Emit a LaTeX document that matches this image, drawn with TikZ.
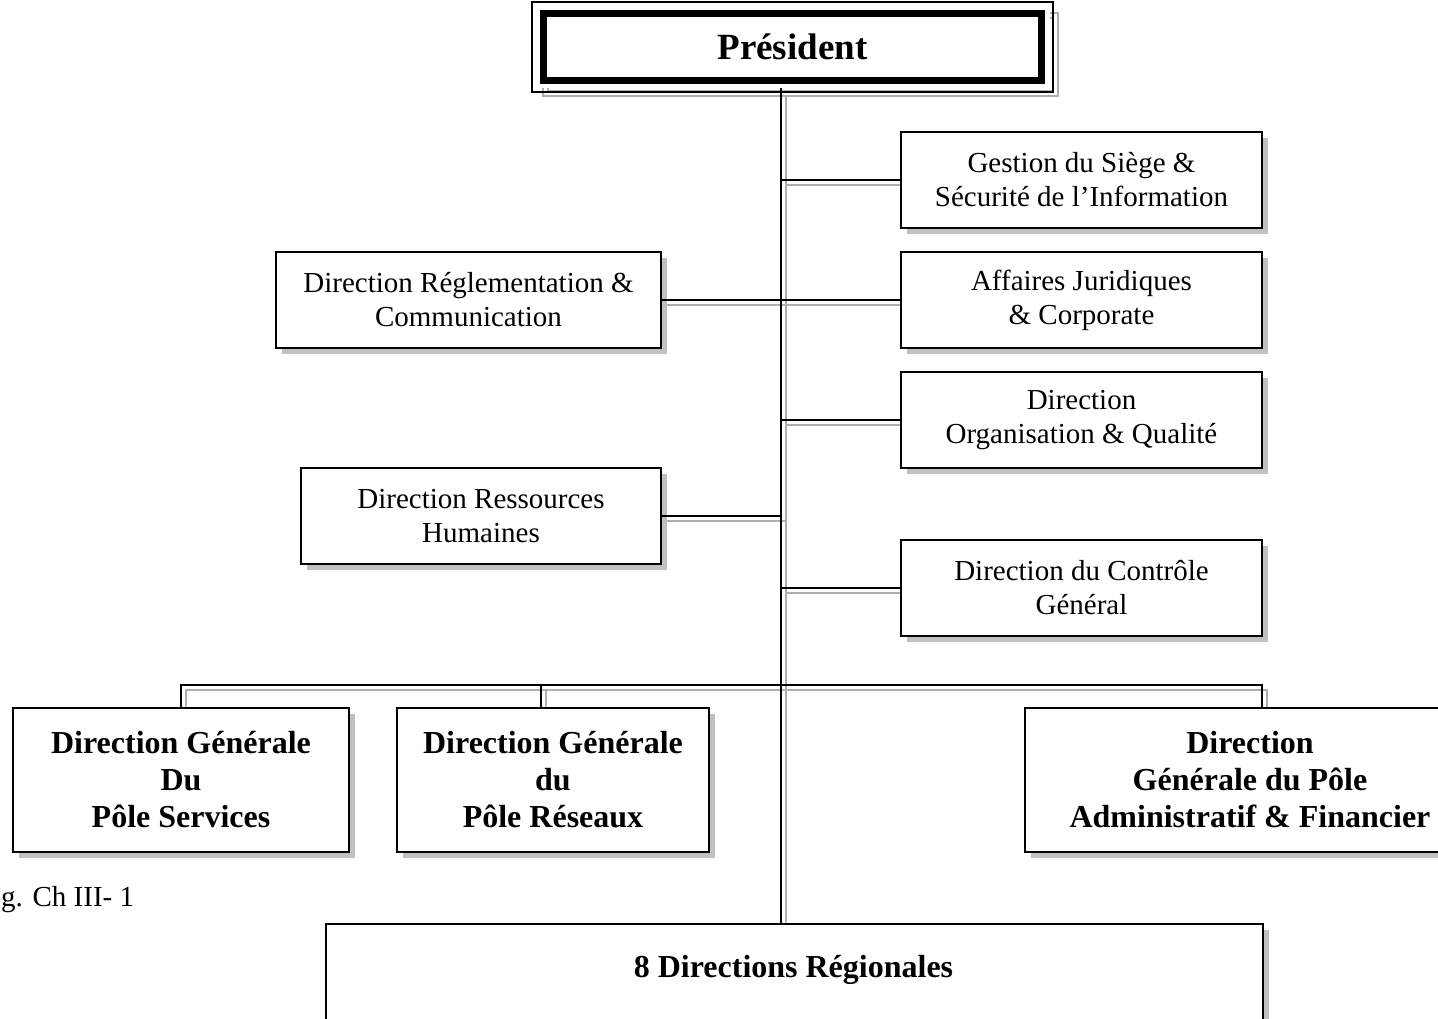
\documentclass[tikz,border=0pt]{standalone}
\usepackage{fontspec}
\setmainfont{Liberation Serif}
\usetikzlibrary{shadows}
\definecolor{shade}{RGB}{192,192,192}
\definecolor{wire}{RGB}{175,175,175}

\begin{document}
\begin{tikzpicture}[x=1pt,y=-1pt,
  unit/.style={draw=black, line width=2pt, fill=white, inner sep=0pt, align=center,
    font=\fontsize{29}{34}\selectfont,
    drop shadow={shadow xshift=6pt, shadow yshift=-6pt, fill=shade, draw=none, opacity=1}},
  pole/.style={unit, font=\fontsize{32}{37}\selectfont\bfseries},
  link/.style={line width=2pt, black},
  linkshade/.style={line width=1.6pt, wire}
]
\useasboundingbox (0,0) rectangle (1438,1018);
\clip (0,0) rectangle (1438,1018);

% ---- president frame: grey offset outline behind, thin outer line, thick border
\draw[wire, line width=1.2pt] (543,13) rectangle (1058,96);
\draw[wire, line width=1.2pt] (548,18) rectangle (1053,91);
\draw[wire, line width=1.2pt] (555,25) rectangle (1046,84);
\fill[white] (535,5) rectangle (1050,88);
\node[draw=black, line width=7pt, fill=white, inner sep=0pt,
      minimum width=498pt, minimum height=67pt,
      font=\fontsize{37}{44}\selectfont\bfseries] (pres) at (792.5,47) {Président};
\draw[line width=1.5pt] ([shift={(-8,-8)}]pres.north west) rectangle ([shift={(8,8)}]pres.south east);

% ---- connector anchor points
\coordinate (t0) at (781,88);
\coordinate (bus) at (781,685);
\coordinate (res-in) at (541,708);
\coordinate (adm-in) at (1262,708);

% shade lines beside the connectors
\draw[linkshade] (786,96) -- (786,923);
\foreach \yy in {180,300,420,588} \draw[linkshade] (786,\yy+5) -- (901,\yy+5);
\foreach \yy in {300,516} \draw[linkshade] (661,\yy+5) -- (786,\yy+5);
\draw[linkshade] (186,708) -- (186,690) -- (1267,690) -- (1267,708);
\draw[linkshade] (546,690) -- (546,708);

% right-hand staff units
\node[unit, minimum width=361pt, minimum height=96pt] (gest) at (1081.5,180) {Gestion du Siège \&\\Sécurité de l’Information};
\node[unit, minimum width=361pt, minimum height=96pt] (aff)  at (1081.5,300) {Affaires Juridiques\\\& Corporate};
\node[unit, minimum width=361pt, minimum height=96pt] (org)  at (1081.5,420) {Direction\\Organisation \& Qualité};
\node[unit, minimum width=361pt, minimum height=96pt] (ctrl) at (1081.5,588) {Direction du Contrôle\\Général};

% left-hand staff units
\node[unit, minimum width=385pt, minimum height=96pt] (regl) at (468.5,300) {Direction Réglementation \&\\Communication};
\node[unit, minimum width=360pt, minimum height=96pt] (rh)   at (481,516) {Direction Ressources\\Humaines};

% general directorates
\node[pole, minimum width=336pt, minimum height=144pt] (serv) at (181,780) {Direction Générale\\Du\\Pôle Services};
\node[pole, minimum width=312pt, minimum height=144pt] (res)  at (553,780) {Direction Générale\\du\\Pôle Réseaux};
\node[pole, minimum width=450pt, minimum height=144pt] (adm)  at (1250,780) {Direction\\Générale du Pôle\\Administratif \& Financier};

% regional directorates
\node[pole, minimum width=937pt, minimum height=99pt, anchor=north west] (reg) at (325,923) {};
\node[font=\fontsize{32}{37}\selectfont\bfseries] (regtext) at (793.5,970) {8 Directions Régionales};

% ---- connectors
\draw[link] (t0) -- (t0 |- reg.north);
\draw[link] (t0 |- gest.west) -- (gest.west);
\draw[link] (t0 |- aff.west) -- (aff.west);
\draw[link] (t0 |- org.west) -- (org.west);
\draw[link] (t0 |- ctrl.west) -- (ctrl.west);
\draw[link] (regl.east) -- (t0 |- regl.east);
\draw[link] (rh.east) -- (t0 |- rh.east);
\draw[link] (serv.north) |- (bus) -| (adm-in);
\draw[link] (res-in |- bus) -- (res-in);

% caption
\node[anchor=base west, inner sep=0pt, font=\fontsize{29}{34}\selectfont] (caption) at (1,906) {g. Ch III- 1};
\end{tikzpicture}
\end{document}
